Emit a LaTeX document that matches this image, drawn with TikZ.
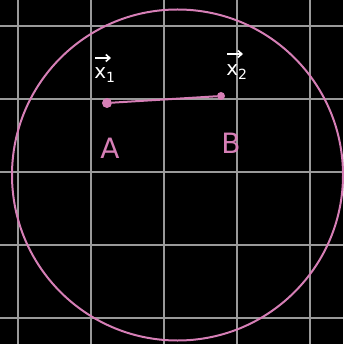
\documentclass[tikz,border=0pt]{standalone}
\usepackage{fontspec}
\setmainfont{DejaVu Sans}
\usetikzlibrary{arrows.meta}
\definecolor{pinkc}{HTML}{D67FB6}
\definecolor{gridc}{HTML}{9A9A9A}
\begin{document}
\begin{tikzpicture}[x=1pt,y=-1pt,
  gridline/.style={gridc,line width=1.8pt},
  pinkline/.style={pinkc,line width=2pt},
  dotnode/.style={circle,fill=pinkc,inner sep=0pt,minimum size=10pt},
  veclabel/.style={text=white,font=\fontsize{20}{20}\selectfont,inner sep=0pt},
  vecarrow/.style={white,line width=1.6pt,-{Straight Barb[length=4pt,width=7pt]}},
  ptlabel/.style={text=pinkc,font=\fontsize{28}{28}\selectfont}]
\fill[black] (0,0) rectangle (343,344);
\useasboundingbox (0,0) rectangle (343,344);
\foreach \v in {18,91,164,237,310} {
  \draw[gridline] (\v,0) -- (\v,344);
  \draw[gridline] (0,\v+8) -- (343,\v+8);
}
\node[draw=pinkc,line width=2pt,circle,minimum size=331pt,inner sep=0pt] (circ) at (177.5,175) {};
\node[dotnode] (a) at (107,103) {};
\node[dotnode,minimum size=8pt] (b) at (221,96) {};
\draw[pinkline] (a) -- (b);
\node[veclabel] (x1) at (105,75) {x\textsubscript{1}};
\node[veclabel] (x2) at (237,72) {x\textsubscript{2}};
\coordinate (x1s) at (95,58);
\coordinate (x1e) at (111,58);
\coordinate (x2s) at (227,54);
\coordinate (x2e) at (243,54);
\draw[vecarrow] (x1s) -- (x1e);
\draw[vecarrow] (x2s) -- (x2e);
\node[ptlabel] (la) at (110,148) {A};
\node[ptlabel] (lb) at (231,143) {B};
\end{tikzpicture}
\end{document}
